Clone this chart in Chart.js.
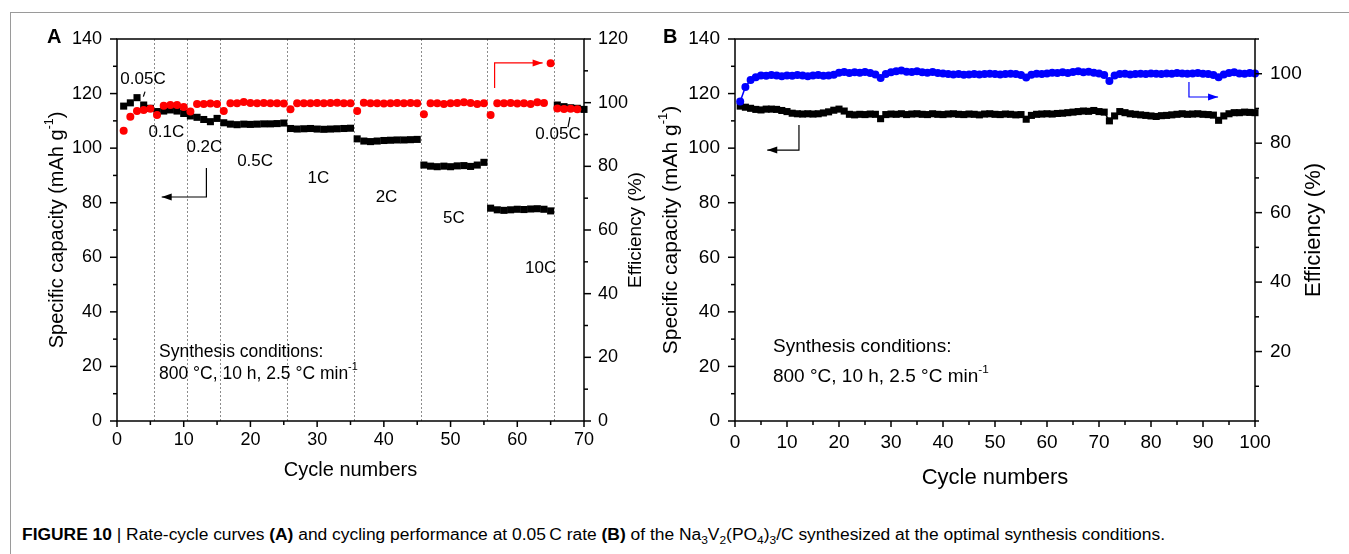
<!DOCTYPE html>
<html>
<head>
<meta charset="utf-8">
<title>Figure 10 - rate and cycling performance</title>
<script src="https://cdn.jsdelivr.net/npm/chart.js@4.4.1/dist/chart.umd.min.js"></script>
<style>
  html, body { margin: 0; padding: 0; background: #fff; }
  body { width: 1349px; height: 554px; overflow: hidden; position: relative;
         font-family: "Liberation Sans", Arial, sans-serif; color: #000; }
  .frame { position: absolute; left: 10px; top: 12px; width: 1400px; height: 600px;
           border-left: 1px solid #9a9a9a; border-top: 1px solid #9a9a9a; }
  #chartA { position: absolute; left: 10px; top: 12px; }
  #chartB { position: absolute; left: 650px; top: 12px; }
  .panel { position: absolute; top: 26px; font-weight: bold; font-size: 20px; line-height: 20px; }
  .caption { position: absolute; left: 22px; top: 527px; font-size: 16px; line-height: 16px;
             white-space: nowrap; transform-origin: 0 0; }
  .caption sub { font-size: 11px; line-height: 0; }
</style>
</head>
<body>
<div class="frame"></div>
<canvas id="chartA" width="640" height="480"></canvas>
<canvas id="chartB" width="699" height="480"></canvas>
<div class="panel" style="left:47px">A</div>
<div class="panel" style="left:663px">B</div>
<div class="caption"><b>FIGURE 10</b> | Rate-cycle curves <b>(A)</b> and cycling performance at 0.05&#8201;C rate <b>(B)</b> of the Na<sub>3</sub>V<sub>2</sub>(PO<sub>4</sub>)<sub>3</sub>/C synthesized at the optimal synthesis conditions.</div>

<script>
/* ---------- DATA : PANEL A (rate test, cycle 1..70) ---------- */
const rateNamesA = ['0.05C', '0.1C', '0.2C', '0.5C', '1C', '2C', '5C', '10C', '0.05C'];
const rateBoundsA = [5.5, 10.5, 15.5, 25.5, 35.5, 45.5, 55.5, 65.5];

// specific capacity, mAh/g
const capacityA = [
  115.4, 116.6, 118.5, 115.8, 114.6,
  113.4, 113.6, 114.0, 113.6, 112.7,
  111.8, 111.3, 110.5, 109.7, 110.9,
  109.3, 108.8, 108.6, 108.8, 108.7, 108.8, 108.9, 108.9, 109.0, 109.2,
  107.2, 107.0, 107.1, 107.2, 107.0, 106.9, 107.0, 107.1, 107.2, 107.3,
  103.4, 102.6, 102.4, 102.6, 102.8, 102.9, 103.0, 103.0, 103.1, 103.2,
  93.8, 93.4, 93.2, 93.4, 93.2, 93.5, 93.6, 93.3, 93.8, 94.8,
  78.0, 77.4, 77.2, 77.4, 77.6, 77.5, 77.7, 77.8, 77.6, 77.0,
  115.8, 115.2, 114.8, 114.6, 114.2
];

// coulombic efficiency, %
const efficiencyA = [
  91.2, 95.6, 97.4, 97.7, 98.1,
  96.1, 99.0, 99.3, 99.3, 98.6,
  97.2, 99.6, 99.6, 99.7, 99.6,
  97.4, 99.8, 99.8, 100.2, 99.9, 99.8, 99.9, 99.8, 99.8, 99.7,
  97.9, 99.8, 99.8, 99.8, 99.9, 99.8, 99.9, 100.0, 99.8, 99.8,
  97.4, 100.0, 99.8, 99.8, 99.7, 99.8, 99.9, 99.8, 99.9, 99.8,
  96.4, 99.8, 99.8, 99.6, 99.8, 99.9, 100.1, 99.9, 99.6, 99.8,
  96.1, 99.8, 99.8, 99.9, 99.7, 99.8, 99.6, 100.1, 99.9, 112.4,
  98.2, 98.0, 98.1, 97.9
];

/* ---------- DATA : PANEL B (0.05C cycling, cycle 1..100) ---------- */
const capacityB = [
  115.4, 115.0, 114.6, 114.2, 114.0, 114.3, 114.3, 114.2, 113.8, 113.4,
  112.8, 112.6, 112.5, 112.6, 112.5, 112.6, 112.9, 113.3, 113.9, 114.3,
  113.6, 112.4, 112.2, 112.4, 112.3, 112.5, 112.4, 110.8, 112.3, 112.5,
  112.4, 112.6, 112.3, 112.5, 112.6, 112.4, 112.3, 112.6, 112.4, 112.3,
  112.5, 112.6, 112.4, 112.3, 112.5, 112.4, 112.2, 112.5, 112.6, 112.4,
  112.3, 112.5, 112.4, 112.2, 112.3, 110.6, 112.0, 112.4, 112.5, 112.6,
  112.5, 112.7, 112.8, 113.0, 113.2, 113.4, 113.6, 113.5, 113.8, 113.4,
  113.2, 110.0, 111.8, 113.4, 113.0, 112.6, 112.4, 112.2, 112.0, 111.8,
  111.6, 111.9, 112.0, 112.2, 112.4, 112.6, 112.4, 112.5, 112.6, 112.4,
  112.3, 112.1, 110.2, 111.8, 112.6, 113.0, 113.0, 113.2, 113.1, 113.0
];

const efficiencyB = [
  92.0, 96.2, 98.2, 99.0, 99.5, 99.4, 99.6, 99.5, 99.3, 99.5,
  99.4, 99.6, 99.5, 99.3, 99.5, 99.6, 99.4, 99.5, 99.7, 100.3,
  100.5, 100.2, 100.4, 100.3, 100.5, 100.2, 99.8, 98.8, 99.9, 100.4,
  100.7, 100.9, 100.6, 100.5, 100.7, 100.4, 100.3, 100.5, 100.2, 100.1,
  99.9, 99.8, 99.9, 99.7, 99.8, 99.9, 99.8, 99.9, 100.0, 99.9,
  99.8, 99.9, 100.0, 99.9, 99.6, 98.9, 99.7, 100.0, 99.9, 100.1,
  100.3, 100.2, 100.4, 100.2, 100.5, 100.7, 100.4, 100.6, 100.3, 100.1,
  99.6, 97.9, 99.5, 99.9, 100.0, 99.8, 99.9, 100.0, 99.9, 100.1,
  100.0, 99.9, 100.1, 100.0, 100.2, 100.1, 100.0, 100.1, 100.2, 100.0,
  99.9, 99.6, 99.0, 99.8, 100.2, 100.4, 100.1, 100.0, 100.2, 100.1
];

/* ---------- TICK LABELS ---------- */
const capTicks = [0, 20, 40, 60, 80, 100, 120, 140];
const effTicksA = [0, 20, 40, 60, 80, 100, 120];
const effTicksB = [20, 40, 60, 80, 100];
const cycleTicksA = [0, 10, 20, 30, 40, 50, 60, 70];
const cycleTicksB = [0, 10, 20, 30, 40, 50, 60, 70, 80, 90, 100];

const FONT = '"Liberation Sans", Arial, sans-serif';
Chart.defaults.font.family = FONT;
Chart.defaults.color = '#000';

// cycle number = position in the list (first cycle is 1)
const toPoints = arr => arr.map((v, i) => ({ x: i + 1, y: v }));

/* ---------- HELPERS ---------- */
// draws text made of normal and superscript parts, centred or left aligned
function drawRich(ctx, parts, x, y, size, align) {
    const fontOf = s => s + 'px ' + FONT;
    const widths = parts.map(([t, sup]) => {
        ctx.font = fontOf(sup ? size * 0.62 : size);
        return ctx.measureText(t).width;
    });
    const total = widths.reduce((a, b) => a + b, 0);
    let cx = align === 'left' ? x : x - total / 2;
    ctx.textAlign = 'left';
    ctx.textBaseline = 'middle';
    parts.forEach(([t, sup], i) => {
        ctx.font = fontOf(sup ? size * 0.62 : size);
        ctx.fillText(t, cx, sup ? y - size * 0.38 : y);
        cx += widths[i];
    });
}

/* ---------- PLUGIN : frame, origin style ticks, notes ---------- */
const panelDecor = {
    id: 'panelDecor',
    beforeDatasetsDraw(chart, args, opts) {
        const { ctx, chartArea: a, scales: { x } } = chart;
        ctx.save();
        ctx.strokeStyle = '#8c8c8c';
        ctx.lineWidth = 1;
        ctx.setLineDash([2, 2]);
        (opts.dashes || []).forEach(b => {
            const px = Math.round(x.getPixelForValue(b)) + 0.5;
            ctx.beginPath();
            ctx.moveTo(px, a.top);
            ctx.lineTo(px, a.bottom);
            ctx.stroke();
        });
        ctx.restore();
    },
    afterDatasetsDraw(chart, args, opts) {
        const { ctx, scales } = chart;
        ctx.save();
        // arrows and little leader lines
        (opts.arrows || []).forEach(ar => {
            const ys = scales[ar.axis || 'y'];
            const pts = ar.pts.map(([vx, vy]) => [scales.x.getPixelForValue(vx), ys.getPixelForValue(vy)]);
            ctx.strokeStyle = ar.color;
            ctx.fillStyle = ar.color;
            ctx.lineWidth = 1.2;
            ctx.beginPath();
            pts.forEach(([px, py], i) => i ? ctx.lineTo(px, py) : ctx.moveTo(px, py));
            ctx.stroke();
            if (ar.head) {
                const [x1, y1] = pts[pts.length - 2];
                const [x2, y2] = pts[pts.length - 1];
                const ang = Math.atan2(y2 - y1, x2 - x1);
                ctx.beginPath();
                ctx.moveTo(x2, y2);
                ctx.lineTo(x2 - 10 * Math.cos(ang) + 3.5 * Math.sin(ang), y2 - 10 * Math.sin(ang) - 3.5 * Math.cos(ang));
                ctx.lineTo(x2 - 10 * Math.cos(ang) - 3.5 * Math.sin(ang), y2 - 10 * Math.sin(ang) + 3.5 * Math.cos(ang));
                ctx.closePath();
                ctx.fill();
            }
        });
        // text notes
        ctx.fillStyle = '#000';
        (opts.notes || []).forEach(n => {
            const px = scales.x.getPixelForValue(n.x);
            const py = scales[n.axis || 'y'].getPixelForValue(n.y);
            drawRich(ctx, n.parts, px, py, n.size, n.align);
        });
        ctx.restore();
    },
    afterDraw(chart, args, opts) {
        const { ctx, chartArea: a } = chart;
        ctx.save();
        ctx.strokeStyle = '#000';
        ctx.lineWidth = 1.5;
        ctx.strokeRect(a.left, a.top, a.right - a.left, a.bottom - a.top);

        // major + minor ticks, pointing outwards
        Object.values(chart.scales).forEach(s => {
            const major = s.ticks.map(t => t.value);
            const step = (major[1] - major[0]) / 2;
            for (let v = s.min; v <= s.max + 1e-9; v += step) {
                const isMajor = major.some(m => Math.abs(m - v) < 1e-6);
                const p = s.getPixelForValue(v);
                ctx.beginPath();
                if (s.position === 'bottom') {
                    ctx.moveTo(p, a.bottom);
                    ctx.lineTo(p, a.bottom + (isMajor ? 6 : 4));
                } else if (s.position === 'left') {
                    ctx.moveTo(a.left, p);
                    ctx.lineTo(a.left - (isMajor ? 7 : 4), p);
                } else {
                    ctx.moveTo(a.right, p);
                    ctx.lineTo(a.right + (isMajor ? 7 : 4), p);
                }
                ctx.stroke();
            }
        });

        // y axis titles (both read bottom to top)
        const midY = (a.top + a.bottom) / 2;
        [[opts.leftTitle, a.left], [opts.rightTitle, a.right]].forEach(([t, edge]) => {
            if (!t) return;
            ctx.save();
            ctx.translate(edge + t.offset, midY);
            ctx.rotate(-Math.PI / 2);
            ctx.fillStyle = '#000';
            drawRich(ctx, t.parts, 0, 0, t.size, 'center');
            ctx.restore();
        });
        ctx.restore();
    }
};

/* ---------- SHARED SCALE BUILDER ---------- */
function linearAxis(pos, min, max, tickList, size, pad, fitSize, extra) {
    return Object.assign({
        type: 'linear',
        position: pos,
        min: min,
        max: max,
        grid: { display: false, drawTicks: false },
        border: { display: false },
        ticks: { padding: pad, font: { size: size }, color: '#000', autoSkip: false, maxRotation: 0 },
        afterBuildTicks: s => { s.ticks = tickList.map(v => ({ value: v })); },
        afterFit: s => {
            if (pos === 'bottom') s.height = fitSize; else s.width = fitSize;
        }
    }, extra || {});
}

/* ---------- PANEL A : RATE CAPABILITY ---------- */
document.addEventListener("DOMContentLoaded", () => {
    new Chart(document.getElementById("chartA"), {
        type: 'scatter',
        data: {
            datasets: [{
                label: 'Efficiency',
                data: toPoints(efficiencyA),
                yAxisID: 'y1',
                pointStyle: 'circle',
                pointRadius: 4,
                pointBackgroundColor: '#ff0000',
                pointBorderColor: '#ff0000',
                pointBorderWidth: 0,
                showLine: false,
                clip: false
            }, {
                label: 'Capacity',
                data: toPoints(capacityA),
                yAxisID: 'y',
                pointStyle: 'rect',
                pointRadius: 5,
                pointBackgroundColor: '#000',
                pointBorderColor: '#000',
                pointBorderWidth: 0,
                showLine: false,
                clip: false
            }]
        },
        options: {
            responsive: false,
            animation: false,
            events: [],
            layout: { padding: { top: 27, left: 0, right: 0, bottom: 0 } },
            scales: {
                x: linearAxis('bottom', 0, 70, cycleTicksA, 18, 8, 71, {
                    title: { display: true, text: 'Cycle numbers', color: '#000',
                             font: { size: 20 }, padding: { top: 0, bottom: 10 } }
                }),
                y: linearAxis('left', 0, 140, capTicks, 18, 15, 107),
                y1: linearAxis('right', 0, 120, effTicksA, 18, 14, 66)
            },
            plugins: {
                legend: { display: false },
                tooltip: { enabled: false },
                panelDecor: {
                    dashes: rateBoundsA,
                    leftTitle: { parts: [['Specific capacity (mAh g'], ['-1', true], [')']], size: 20, offset: -60 },
                    rightTitle: { parts: [['Efficiency (%)']], size: 19, offset: 52 },
                    notes: [
                        { parts: [[rateNamesA[0]]], x: 3.9, y: 125.3, size: 17 },
                        { parts: [[rateNamesA[1]]], x: 7.4, y: 105.9, size: 17 },
                        { parts: [[rateNamesA[2]]], x: 13.1, y: 100.4, size: 17 },
                        { parts: [[rateNamesA[3]]], x: 20.7, y: 95.3, size: 17 },
                        { parts: [[rateNamesA[4]]], x: 30.2, y: 89.0, size: 17 },
                        { parts: [[rateNamesA[5]]], x: 40.4, y: 82.1, size: 17 },
                        { parts: [[rateNamesA[6]]], x: 50.5, y: 74.4, size: 17 },
                        { parts: [[rateNamesA[7]]], x: 63.5, y: 56.0, size: 17 },
                        { parts: [[rateNamesA[8]]], x: 66.1, y: 105.2, size: 17 },
                        { parts: [['Synthesis conditions:']], x: 6.3, y: 25.3, size: 17.5, align: 'left' },
                        { parts: [['800 \u00B0C, 10 h, 2.5 \u00B0C min'], ['-1', true]], x: 6.3, y: 17.2, size: 17.5, align: 'left' }
                    ],
                    arrows: [
                        { pts: [[13.4, 92.7], [13.4, 82.1], [6.7, 82.1]], color: '#000', head: true },
                        { pts: [[56.6, 104.6], [56.6, 112.5], [63.8, 112.5]], color: '#ff0000', head: true, axis: 'y1' },
                        { pts: [[4.2, 120.7], [3.95, 118.9]], color: '#000' },
                        { pts: [[67.6, 107.7], [67.9, 111.4]], color: '#000' }
                    ]
                }
            }
        },
        plugins: [panelDecor]
    });
});

/* ---------- PANEL B : LONG CYCLING AT 0.05C ---------- */
document.addEventListener("DOMContentLoaded", () => {
    new Chart(document.getElementById("chartB"), {
        type: 'scatter',
        data: {
            datasets: [{
                label: 'Efficiency',
                data: toPoints(efficiencyB),
                yAxisID: 'y1',
                pointStyle: 'circle',
                pointRadius: 4,
                pointBackgroundColor: '#0000ff',
                pointBorderColor: '#0000ff',
                pointBorderWidth: 0,
                showLine: true,
                borderColor: '#0000ff',
                borderWidth: 1.5,
                clip: false
            }, {
                label: 'Capacity',
                data: toPoints(capacityB),
                yAxisID: 'y',
                pointStyle: 'rect',
                pointRadius: 5,
                pointBackgroundColor: '#000',
                pointBorderColor: '#000',
                pointBorderWidth: 0,
                showLine: true,
                borderColor: '#000',
                borderWidth: 1.5,
                clip: false
            }]
        },
        options: {
            responsive: false,
            animation: false,
            events: [],
            layout: { padding: { top: 27, left: 0, right: 0, bottom: 0 } },
            scales: {
                x: linearAxis('bottom', 0, 100, cycleTicksB, 19, 10, 71, {
                    title: { display: true, text: 'Cycle numbers', color: '#000',
                             font: { size: 22 }, padding: { top: 0, bottom: 1 } }
                }),
                y: linearAxis('left', 0, 140, capTicks, 19, 15, 85),
                y1: linearAxis('right', 0, 110, effTicksB, 19, 15, 94)
            },
            plugins: {
                legend: { display: false },
                tooltip: { enabled: false },
                panelDecor: {
                    leftTitle: { parts: [['Specific capacity (mAh g'], ['-1', true], [')']], size: 21, offset: -64 },
                    rightTitle: { parts: [['Efficiency (%)']], size: 22, offset: 59 },
                    notes: [
                        { parts: [['Synthesis conditions:']], x: 7.3, y: 27.1, size: 19, align: 'left' },
                        { parts: [['800 \u00B0C, 10 h, 2.5 \u00B0C min'], ['-1', true]], x: 7.3, y: 16.1, size: 19, align: 'left' }
                    ],
                    arrows: [
                        { pts: [[12.3, 108.5], [12.3, 99.3], [6.2, 99.3]], color: '#000', head: true },
                        { pts: [[87.3, 97.6], [87.3, 93.3], [92.9, 93.3]], color: '#0000ff', head: true, axis: 'y1' }
                    ]
                }
            }
        },
        plugins: [panelDecor]
    });

    // squeeze the caption into the narrow width used in the figure
    const cap = document.querySelector('.caption');
    cap.style.transform = 'scaleX(' + (1143 / cap.scrollWidth) + ')';
});
</script>
</body>
</html>
